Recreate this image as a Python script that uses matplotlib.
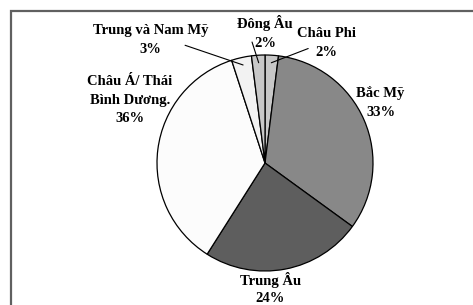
import matplotlib
matplotlib.use("Agg")
import matplotlib.pyplot as plt
from matplotlib.patches import Rectangle
import numpy as np

# ------------------------------------------- #
#  Data                                       #
# ------------------------------------------- #
regions = ["Châu Phi", "Bắc Mỹ", "Trung Âu", "Châu Á/ Thái\nBình Dương.",
           "Trung và Nam Mỹ", "Đông Âu"]
shares = [2, 33, 24, 36, 3, 2]
colors = ["#c8c8c8", "#888888", "#5e5e5e", "#fcfcfc", "#f2f2f2", "#c8c8c8"]

# label block centres (pie radius units) and leader line start points
label_pos = [(0.57, 1.11), (1.07, 0.56), (0.05, -1.16), (-1.25, 0.58),
             (-1.06, 1.14), (0.0, 1.21)]
leader_from = [(0.40, 1.06), None, None, None, (-0.74, 1.09), (-0.12, 1.12)]

W, H, DPI = 473, 305, 100
R_PX = 108
CX, CY = 265, 163  # pie centre in image pixels (y from top)

plt.rcParams['font.family'] = ['Liberation Serif', 'DejaVu Serif']

fig = plt.figure(figsize=(W / DPI, H / DPI), dpi=DPI)
ax = fig.add_axes([0, 0, 1, 1])
ax.axis("off")

wedges, _ = ax.pie(shares, colors=colors, startangle=90, counterclock=False,
                   wedgeprops=dict(edgecolor="black", linewidth=0.9))

ax.set_xlim(-CX / R_PX, (W - CX) / R_PX)
ax.set_ylim(-(H - CY) / R_PX, CY / R_PX)

for w, name, pct, pos, src in zip(wedges, regions, shares, label_pos, leader_from):
    spacing = 1.45 if name == "Trung Âu" else 1.55
    ax.text(pos[0], pos[1], f"{name}\n{pct}%", ha="center", va="center",
            fontsize=10.5, fontweight="bold", linespacing=spacing)
    if src is not None:
        mid = np.deg2rad((w.theta1 + w.theta2) / 2)
        ax.annotate("", xy=(0.93 * np.cos(mid), 0.93 * np.sin(mid)), xytext=src,
                    arrowprops=dict(arrowstyle="-", color="black", lw=0.8,
                                    shrinkA=0, shrinkB=0))

# outer frame of the chart area
fig.patches.append(Rectangle((10.5 / W, -0.1), 1.2, (H - 10.5) / H + 0.1,
                             transform=fig.transFigure, fill=False,
                             edgecolor="#606060", linewidth=1.6))

fig.savefig("out.png", dpi=DPI)
